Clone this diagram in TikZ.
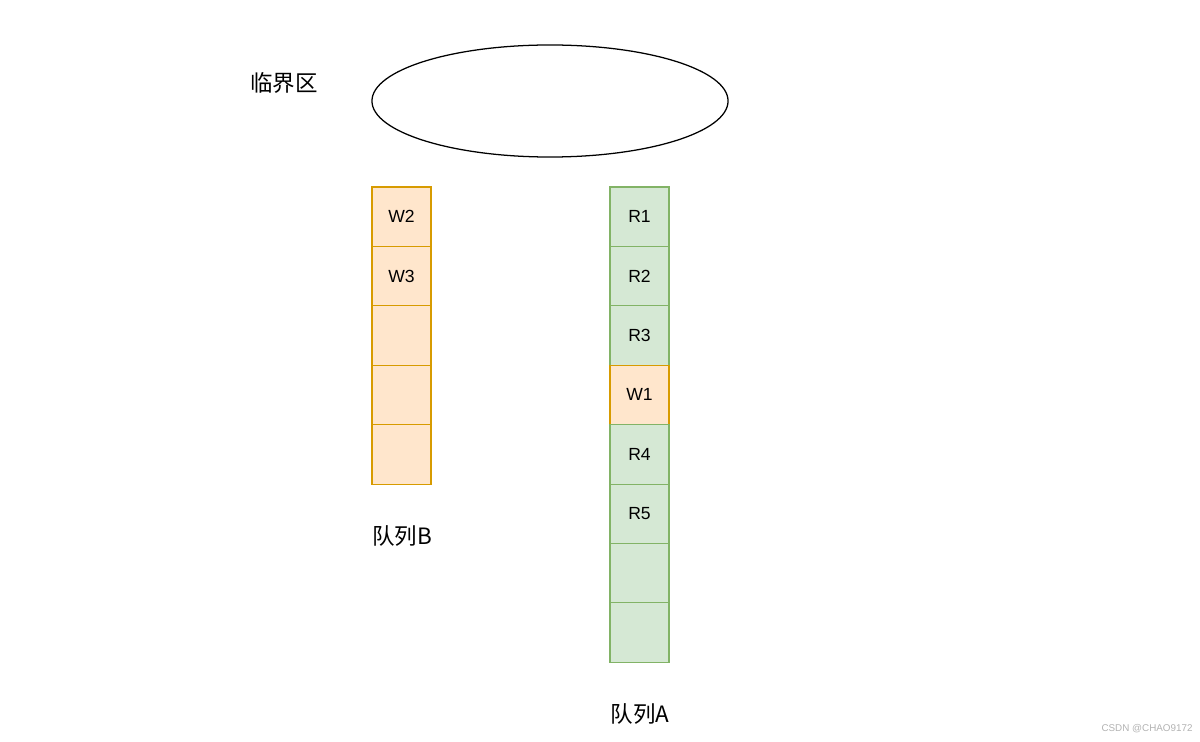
\documentclass[tikz,border=0pt]{standalone}
\usepackage{fontspec}
\setmainfont{Liberation Sans}
\newfontfamily\cjk{Noto Sans CJK SC}
\usepackage{xcolor}
\usetikzlibrary{shapes.geometric, positioning}
\definecolor{cellorange}{HTML}{FFE6CC}
\definecolor{lineorange}{HTML}{D79B00}
\definecolor{cellgreen}{HTML}{D5E8D4}
\definecolor{linegreen}{HTML}{82B366}
\tikzset{
  cellO/.style={rectangle, minimum width=1.475cm, minimum height=1.485cm, inner sep=0pt, outer sep=0pt, draw=lineorange, fill=cellorange, font=\fontsize{12.5}{14}\selectfont, line width=0.75pt},
  cellG/.style={rectangle, minimum width=1.475cm, minimum height=1.485cm, inner sep=0pt, outer sep=0pt, draw=linegreen, fill=cellgreen, font=\fontsize{12.5}{14}\selectfont, line width=0.75pt},
  qlabel/.style={font=\cjk\fontsize{16}{18}\selectfont, inner sep=0pt},
  region/.style={ellipse, draw=black, line width=0.9pt, minimum width=8.9cm, minimum height=2.8cm},
}

\begin{document}
\begin{tikzpicture}[x=0.025cm, y=-0.025cm]
\useasboundingbox (0,0) rectangle (1200,741);
% critical section
\node (crit) [region] at (550,101) {};
\node (critlbl) [qlabel] at (284,83) {临界区};
% queue B
\node (b1) [cellO] at (401.5,216.7) {W2};
\node (b2) [cellO, below=0pt of b1] {W3};
\node (b3) [cellO, below=0pt of b2] {};
\node (b4) [cellO, below=0pt of b3] {};
\node (b5) [cellO, below=0pt of b4] {};
\node (qB) [qlabel] at (402,536) {队列B};
% queue A
\node (a1) [cellG] at (639.5,216.7) {R1};
\node (a2) [cellG, below=0pt of a1] {R2};
\node (a3) [cellG, below=0pt of a2] {R3};
\node (a4) [cellO, below=0pt of a3] {W1};
\node (a5) [cellG, below=0pt of a4] {R4};
\node (a6) [cellG, below=0pt of a5] {R5};
\node (a7) [cellG, below=0pt of a6] {};
\node (a8) [cellG, below=0pt of a7] {};
\node (qA) [qlabel] at (640,714) {队列A};
% watermark
\node (wm) [font=\fontsize{7}{8}\selectfont, text=gray!60, inner sep=0pt] at (1147,729) {CSDN @CHAO9172};
\end{tikzpicture}
\end{document}
